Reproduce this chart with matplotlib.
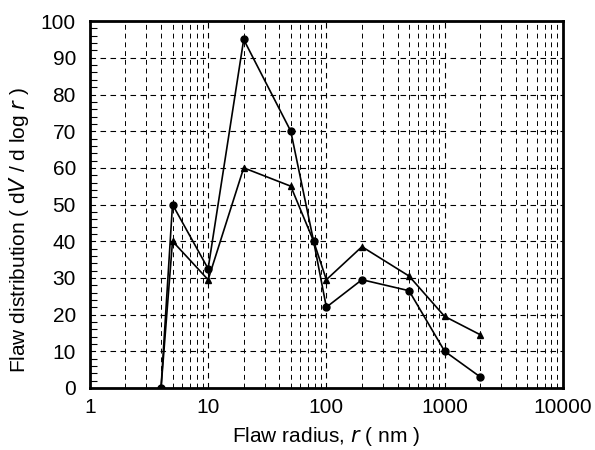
import matplotlib
matplotlib.use("Agg")
import matplotlib.pyplot as plt
from matplotlib.ticker import LogLocator, FixedLocator, MultipleLocator, NullFormatter

radius = [4, 5, 10, 20, 50, 78, 100, 200, 500, 1000, 2000]
circles = [0, 50, 32.5, 95, 70, 40, 22, 29.5, 26.5, 10, 3]
triangles = [0, 40, 29.5, 60, 55, 40, 29.5, 38.5, 30.5, 19.5, 14.5]
xticks = [1, 10, 100, 1000, 10000]
xticklabels = ["1", "10", "100", "1000", "10000"]
yticks = list(range(0, 101, 10))

plt.rcParams['font.family'] = ['Liberation Sans', 'DejaVu Sans']
fig = plt.figure(figsize=(5.95, 4.5), dpi=100)
ax = fig.add_axes([0.151, 0.138, 0.795, 0.815])

ax.plot(radius, circles, color='black', lw=1.2, marker='o', ms=5, zorder=3)
ax.plot(radius, triangles, color='black', lw=1.2, marker='^', ms=5, zorder=3)

ax.set_xscale('log')
ax.set_xlim(1, 10000)
ax.set_ylim(0, 100)
ax.set_xticks(xticks)
ax.set_xticklabels(xticklabels)
ax.xaxis.set_minor_locator(LogLocator(base=10, subs=range(2, 10)))
ax.xaxis.set_minor_formatter(NullFormatter())
ax.set_yticks(yticks)
ax.yaxis.set_minor_locator(MultipleLocator(2))

ax.grid(which='major', axis='both', color='black', ls=(0, (5, 4)), lw=0.8)
ax.grid(which='minor', axis='x', color='black', ls=(0, (5, 4)), lw=0.7)

ax.tick_params(axis='both', which='both', direction='in', labelsize=15, length=0)
ax.tick_params(axis='y', which='minor', length=5, width=0.8, left=True)
ax.tick_params(axis='x', which='major', pad=7)
ax.tick_params(axis='y', which='major', pad=10)
for s in ax.spines.values():
    s.set_linewidth(2)

ax.set_xlabel(r"Flaw radius, $\it{r}$ ( nm )", fontsize=15, labelpad=6)
ax.set_ylabel(r"Flaw distribution ( d$\it{V}$ / d log $\it{r}$ )", fontsize=15)
ax.yaxis.set_label_coords(-0.125, 0.43)

fig.savefig("out.png", dpi=100)
